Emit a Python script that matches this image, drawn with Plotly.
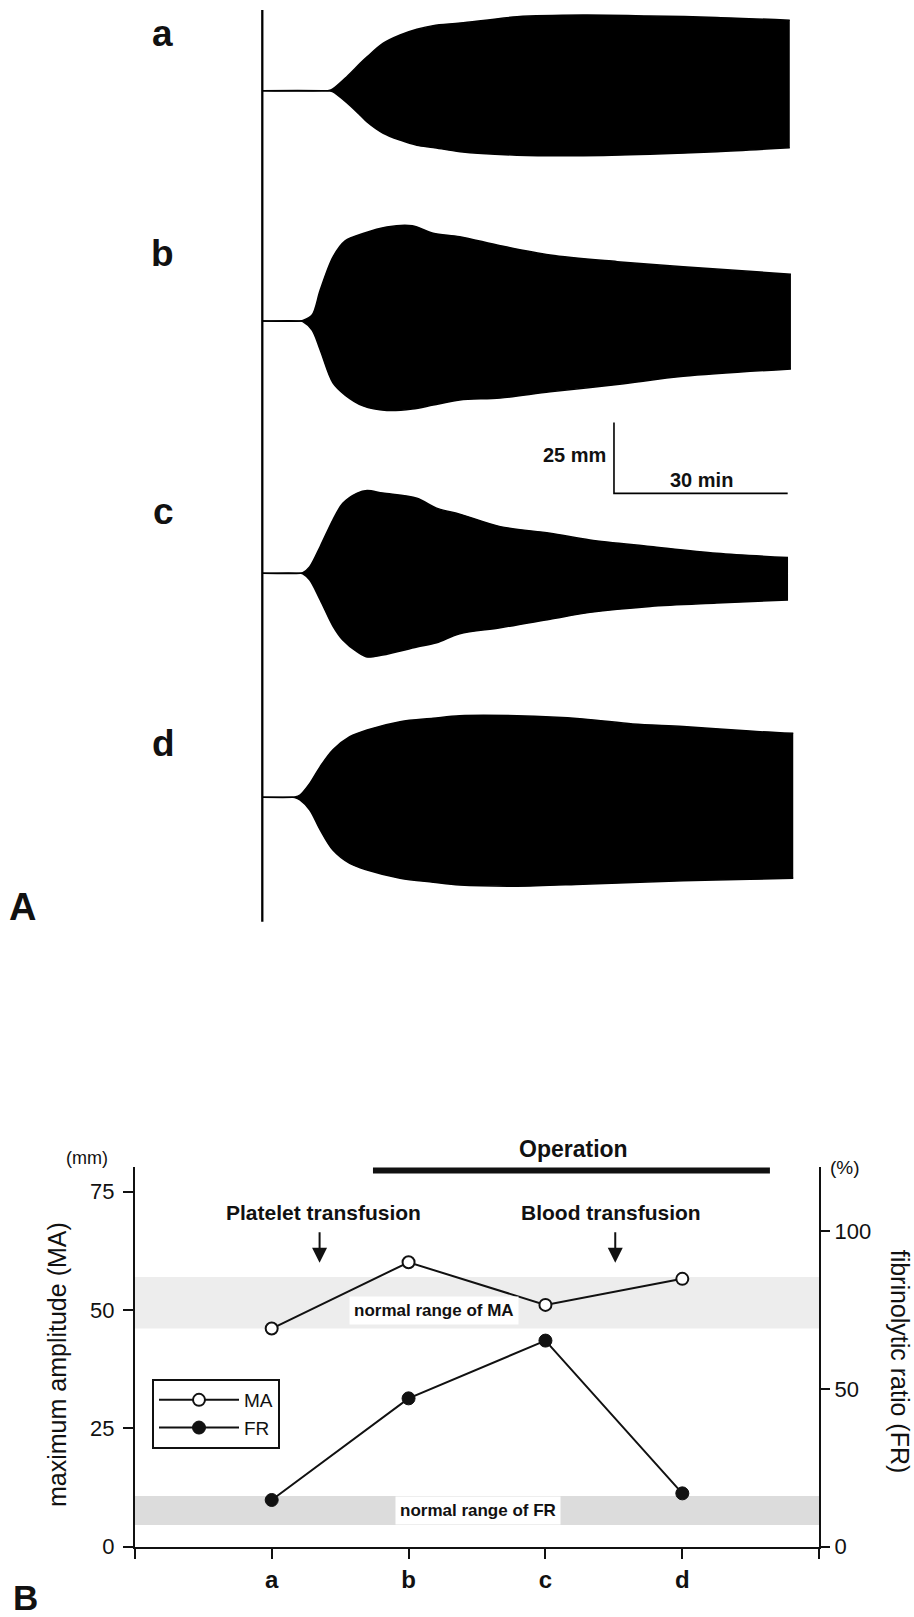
import plotly.graph_objects as go

# ---------------- Panel A: thromboelastograms (time in min, half-amplitudes in mm) ----------------
tracing_labels = ["a", "b", "c", "d"]

time_a = [0, 11.5, 12.1, 14.6, 16.9, 18.1, 20.9, 23.8, 26.7, 29.5, 34.2, 44.0, 55.4, 66.9, 78.5, 91.1]
upper_a = [0, 0.1, 0.5, 4.9, 9.6, 11.9, 16.7, 19.6, 21.6, 22.9, 23.8, 26.0, 26.6, 26.3, 25.8, 24.8]
lower_a = [0, 0.1, 0.3, 4.2, 8.6, 11.0, 15.0, 17.4, 19.2, 20.0, 21.5, 22.7, 22.9, 22.4, 21.5, 20.1]

time_b = [0, 6.6, 7.0, 8.6, 10.0, 12.2, 14.3, 17.4, 21.5, 25.9, 29.5, 34.1, 41.1, 49.7, 61.3, 72.7, 91.3]
upper_b = [0, 0, 0.2, 2.1, 10.9, 22.5, 28.2, 30.8, 33.1, 33.5, 30.9, 29.7, 26.5, 23.2, 20.9, 19.1, 16.5]
lower_b = [0, 0, 0.2, 3.2, 10.2, 21.8, 26.1, 29.9, 31.5, 31.0, 29.6, 27.8, 27.1, 24.9, 22.4, 19.5, 16.9]

time_c = [0, 6.6, 7.0, 8.2, 10.0, 12.2, 13.9, 16.4, 18.1, 20.8, 26.7, 30.1, 34.1, 41.1, 49.7, 56.6, 67.0, 78.5, 90.8]
upper_c = [0, 0, 0.2, 2.3, 9.4, 18.8, 24.6, 28.2, 29.1, 28.2, 26.4, 22.9, 20.8, 16.4, 14.1, 11.7, 9.4, 7.0, 5.5]
lower_c = [0, 0, 0.2, 2.4, 9.4, 18.6, 23.5, 27.7, 29.5, 28.8, 26.0, 24.5, 21.3, 19.2, 16.2, 13.8, 11.7, 10.5, 9.4]

time_d = [0, 5.2, 5.6, 6.5, 8.2, 10.0, 12.2, 15.1, 18.1, 23.8, 29.5, 34.1, 44.0, 55.4, 64.0, 72.7, 84.2, 91.7]
upper_d = [0, 0, 0.1, 0.8, 4.9, 10.8, 16.7, 21.3, 23.7, 26.6, 27.8, 28.7, 28.7, 27.6, 25.8, 24.9, 23.3, 22.5]
lower_d = [0, 0, 0.1, 0.95, 4.5, 11.5, 18.6, 23.3, 25.6, 28.5, 29.9, 30.9, 31.3, 30.6, 30.0, 29.4, 28.9, 28.5]

scale_mm = 25      # vertical calibration bar
scale_min = 30     # horizontal calibration bar

# ---------------- Panel B: MA and FR ----------------
categories = ["a", "b", "c", "d"]
ma_values = [46.1, 60.1, 51.1, 56.6]      # maximum amplitude (mm), left axis
fr_values = [14.8, 47.0, 65.3, 16.9]      # fibrinolytic ratio (%), right axis
ma_normal_range = [46.1, 57.0]
fr_normal_range = [6.9, 16.1]
ma_ticks = [0, 25, 50, 75]
fr_ticks = [0, 50, 100]
platelet_transfusion_at = 1.35
blood_transfusion_at = 3.51
operation_span = [1.74, 4.64]

# ---------------- layout helpers ----------------
W, H = 914, 1617
FONT = "Liberation Sans, Arial, Helvetica, sans-serif"
INK = "#111111"


def px(x):
    return x / W


def py(y):
    return 1 - y / H


fig = go.Figure()

# Panel A axes: x2 (minutes), y3 (mm)
A_PX_PER_MIN = 5.79
A_PX_PER_MM = 2.84
A_ORIGIN_X = 262.3
A_BOTTOM = 935
baselines = {"a": 297.3, "b": 216.2, "c": 127.4, "d": 48.5}

tracings = {
    "a": (time_a, upper_a, lower_a),
    "b": (time_b, upper_b, lower_b),
    "c": (time_c, upper_c, lower_c),
    "d": (time_d, upper_d, lower_d),
}
for lab in tracing_labels:
    t, up, lo = tracings[lab]
    base = baselines[lab]
    fig.add_trace(go.Scatter(
        x=t, y=[base - l for l in lo], mode="lines",
        line=dict(color="black", width=1.5, shape="spline", smoothing=0.9),
        xaxis="x2", yaxis="y3", showlegend=False, hoverinfo="skip"))
    fig.add_trace(go.Scatter(
        x=t, y=[base + u for u in up], mode="lines", fill="tonexty", fillcolor="black",
        line=dict(color="black", width=1.5, shape="spline", smoothing=0.9),
        xaxis="x2", yaxis="y3", showlegend=False, hoverinfo="skip"))

bar_t, bar_y = 60.74, 155.5
fig.add_trace(go.Scatter(
    x=[bar_t, bar_t, bar_t + scale_min], y=[bar_y + scale_mm, bar_y, bar_y],
    mode="lines", line=dict(color="black", width=1.6), xaxis="x2", yaxis="y3",
    showlegend=False, hoverinfo="skip"))

# Panel B traces
xpos = list(range(1, len(categories) + 1))
fig.add_trace(go.Scatter(
    x=xpos, y=ma_values, name="MA", mode="lines+markers", xaxis="x", yaxis="y",
    line=dict(color=INK, width=2),
    marker=dict(symbol="circle", size=12, color="white", line=dict(color=INK, width=2))))
fig.add_trace(go.Scatter(
    x=xpos, y=fr_values, name="FR", mode="lines+markers", xaxis="x", yaxis="y2",
    line=dict(color=INK, width=2),
    marker=dict(symbol="circle", size=13, color=INK, line=dict(color=INK, width=1))))

shapes = [
    # vertical start line of panel A
    dict(type="line", xref="x2", yref="y3", x0=0, x1=0, y0=4.7, y1=325.7,
         line=dict(color="black", width=2.3)),
    # normal ranges
    dict(type="rect", xref="x", yref="y", x0=0, x1=len(categories) + 1,
         y0=ma_normal_range[0], y1=ma_normal_range[1], fillcolor="#ededed",
         line=dict(width=0), layer="below"),
    dict(type="rect", xref="x", yref="y2", x0=0, x1=len(categories) + 1,
         y0=fr_normal_range[0], y1=fr_normal_range[1], fillcolor="#dcdcdc",
         line=dict(width=0), layer="below"),
    # operation bar
    dict(type="line", xref="x", yref="y", x0=operation_span[0], x1=operation_span[1],
         y0=79.5, y1=79.5, line=dict(color=INK, width=6)),
]


def ann(text, x, y, size, bold=False, **kw):
    d = dict(text=("<b>%s</b>" % text) if bold else text, x=px(x), y=py(y),
             xref="paper", yref="paper", showarrow=False,
             font=dict(family=FONT, size=size, color=INK),
             xanchor="center", yanchor="middle")
    d.update(kw)
    return d


annotations = [
    ann("a", 162, 33.7, 37, True),
    ann("b", 162, 253.7, 37, True),
    ann("c", 163, 512, 37, True),
    ann("d", 163, 743.7, 37, True),
    ann("A", 22, 906.7, 38, True),
    ann("25 mm", 608, 455, 20, True, xanchor="right"),
    ann("30 min", 701.3, 479.7, 20, True),
    ann("B", 25, 1597.8, 35, True),
    ann("(mm)", 87.3, 1158.3, 18),
    ann("(%)", 844.7, 1167, 19),
    ann("Operation", 573, 1148.7, 23, True),
    ann("Platelet transfusion", 323, 1212, 21, True),
    ann("Blood transfusion", 611.3, 1212, 21, True),
    ann("maximum amplitude (MA)", 57, 1365, 25, textangle=-90),
    ann("fibrinolytic ratio (FR)", 900, 1361.7, 25, textangle=90),
    dict(text="<b>normal range of MA</b>", x=2.186, y=49.9, xref="x", yref="y",
         showarrow=False, bgcolor="white", borderpad=4,
         font=dict(family=FONT, size=17, color=INK)),
    dict(text="<b>normal range of FR</b>", x=2.504, y=11.5, xref="x", yref="y2",
         showarrow=False, bgcolor="white", borderpad=4,
         font=dict(family=FONT, size=17, color=INK)),
]
for at in (platelet_transfusion_at, blood_transfusion_at):
    annotations.append(dict(text="", x=at, y=60.0, xref="x", yref="y", showarrow=True,
                            ax=0, ay=-32, arrowhead=2, arrowsize=1.5, arrowwidth=2,
                            arrowcolor=INK))

axis_common = dict(showgrid=False, zeroline=False, showline=True, linecolor=INK,
                   linewidth=2, ticks="outside", tickcolor=INK, tickwidth=2,
                   automargin=False)

fig.update_layout(
    width=W, height=H, margin=dict(l=0, r=0, t=0, b=0, pad=0, autoexpand=False),
    paper_bgcolor="white", plot_bgcolor="rgba(0,0,0,0)",
    font=dict(family=FONT, color=INK),
    xaxis=dict(domain=[px(134.8), px(819.2)], range=[0, len(categories) + 1], anchor="y",
               tickvals=[0] + xpos + [len(categories) + 1],
               ticktext=[""] + [f"<b>{c}</b>" for c in categories] + [""],
               ticklen=10, tickfont=dict(family=FONT, size=24, color=INK), **axis_common),
    yaxis=dict(domain=[py(1546.7), py(1166.7)], range=[0, 80.3], anchor="x",
               tickvals=ma_ticks, ticklen=10, ticklabelstandoff=4,
               tickfont=dict(family=FONT, size=22, color=INK), **axis_common),
    yaxis2=dict(domain=[py(1546.7), py(1166.7)], range=[0, 120.4], anchor="x",
                overlaying="y", side="right", tickvals=fr_ticks, ticklen=9,
                tickfont=dict(family=FONT, size=22, color=INK), **axis_common),
    xaxis2=dict(domain=[0, 1], range=[-A_ORIGIN_X / A_PX_PER_MIN, (W - A_ORIGIN_X) / A_PX_PER_MIN],
                anchor="y3", visible=False, automargin=False),
    yaxis3=dict(domain=[py(A_BOTTOM), 1], range=[0, A_BOTTOM / A_PX_PER_MM],
                anchor="x2", visible=False, automargin=False),
    showlegend=True,
    legend=dict(x=px(152), y=py(1379), xanchor="left", yanchor="top",
                bgcolor="white", bordercolor=INK, borderwidth=2, traceorder="normal",
                font=dict(family=FONT, size=19, color=INK), itemwidth=80,
                tracegroupgap=0),
    shapes=shapes, annotations=annotations,
)

fig.write_html("out.html", config={"displayModeBar": False},
               post_script="document.body.style.margin='0';")
